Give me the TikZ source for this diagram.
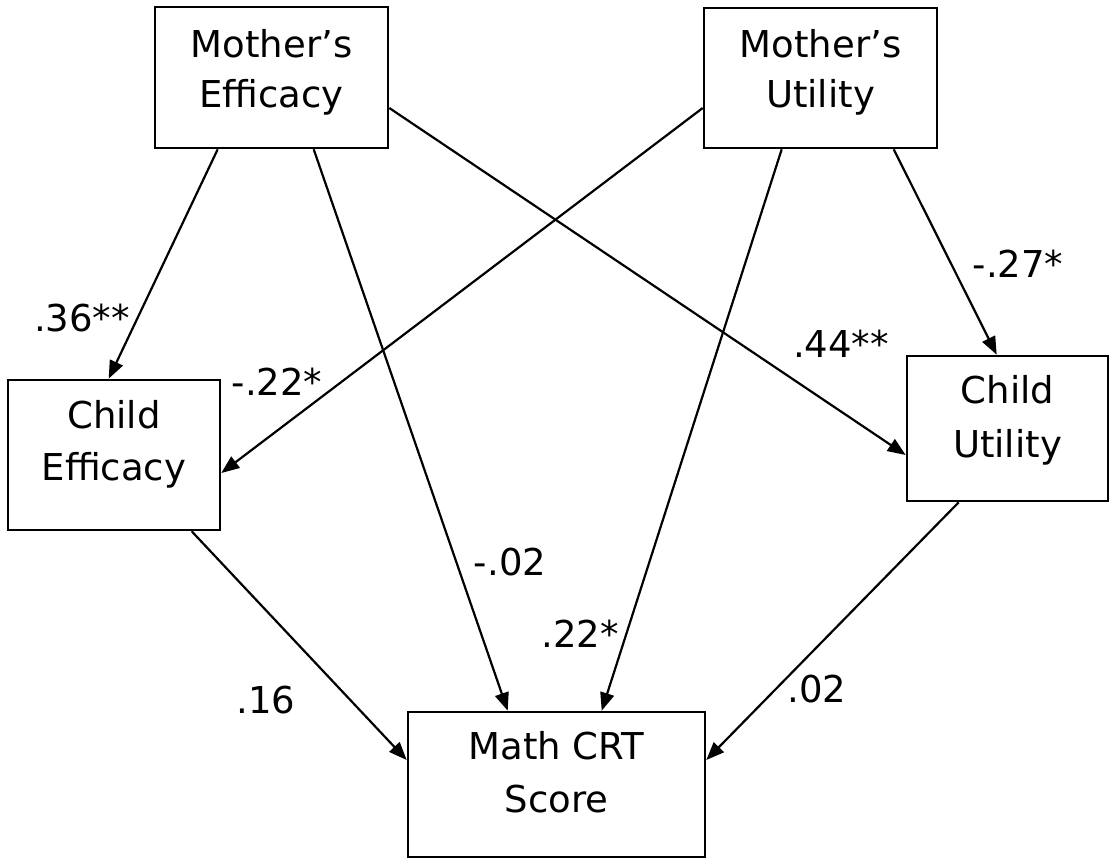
\documentclass[tikz,border=0pt]{standalone}
\usepackage{fontspec}
\setmainfont{DejaVu Sans}
\usetikzlibrary{arrows.meta}
\begin{document}
\begin{tikzpicture}[x=1pt,y=-1pt,
  boxnode/.style={draw=black, line width=2.6pt, inner sep=0pt},
  boxtext/.style={anchor=base, align=center, inner sep=0pt},
  coef/.style={anchor=base, inner sep=0pt, font=\fontsize{37}{44}\selectfont},
  path/.style={line width=2.2pt, -{Triangle[length=18pt,width=14pt]}}
]
\useasboundingbox (0,0) rectangle (1110,859);
% boxes
\node[boxnode, minimum width=233pt, minimum height=141pt] (me) at (271.5,77.5) {};
\node[boxnode, minimum width=233pt, minimum height=140pt] (mu) at (820.5,78) {};
\node[boxnode, minimum width=212pt, minimum height=150pt] (ce) at (114,455) {};
\node[boxnode, minimum width=201pt, minimum height=145pt] (cu) at (1007.5,428.5) {};
\node[boxnode, minimum width=297pt, minimum height=145pt] (math) at (556.5,784.5) {};
% box texts (anchored at the baseline of the last line)
\node[boxtext, font=\fontsize{37}{50}\selectfont] (meT) at (271.5,107) {Mother’s\\Efficacy};
\node[boxtext, font=\fontsize{37}{50}\selectfont] (muT) at (820.5,107) {Mother’s\\Utility};
\node[boxtext, font=\fontsize{37}{52}\selectfont] (ceT) at (114,480) {Child\\Efficacy};
\node[boxtext, font=\fontsize{37}{54}\selectfont] (cuT) at (1007.5,457) {Child\\Utility};
\node[boxtext, font=\fontsize{37}{53}\selectfont] (mathT) at (556.5,812) {Math CRT\\Score};
% connectors
\draw[path] ([xshift=64pt]me.south west) -- ([xshift=102pt]ce.north west);
\draw[path] ([xshift=160pt]me.south west) -- ([xshift=101pt]math.north west);
\draw[path] ([yshift=-30.5pt]me.east) -- ([yshift=-26.5pt]cu.west);
\draw[path] ([yshift=-30pt]mu.west) -- ([yshift=-18pt]ce.east);
\draw[path] ([xshift=79pt]mu.south west) -- ([xshift=195pt]math.north west);
\draw[path] ([xshift=191pt]mu.south west) -- ([xshift=91pt]cu.north west);
\draw[path] ([xshift=185pt]ce.south west) -- ([yshift=24.5pt]math.west);
\draw[path] ([xshift=53pt]cu.south west) -- ([yshift=24.5pt]math.east);
% coefficients
\node[coef] (c1) at (82,331) {.36**};
\node[coef] (c2) at (277,395) {-.22*};
\node[coef] (c3) at (1018,277) {-.27*};
\node[coef] (c4) at (841,357) {.44**};
\node[coef] (c5) at (510,575) {-.02};
\node[coef] (c6) at (580,647) {.22*};
\node[coef] (c7) at (266,713) {.16};
\node[coef] (c8) at (817,702) {.02};
\end{tikzpicture}
\end{document}
